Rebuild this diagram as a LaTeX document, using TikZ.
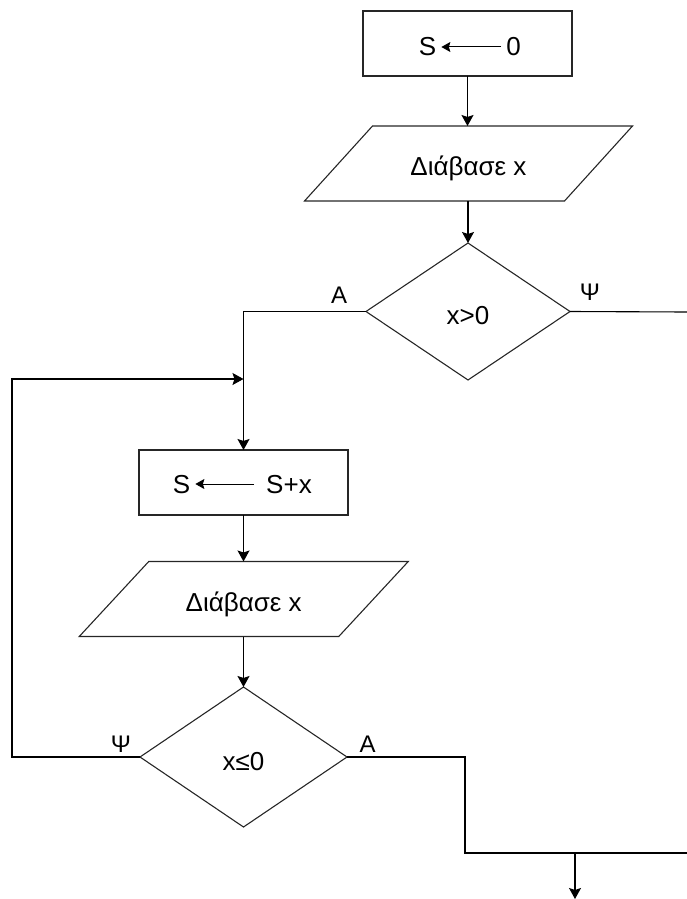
\documentclass[tikz,border=0pt]{standalone}
\usepackage{fontspec}
\setmainfont{Liberation Sans}
\usetikzlibrary{shapes.geometric,arrows.meta}
\begin{document}
\begin{tikzpicture}[x=1pt,y=-1pt,
  every node/.style={font=\fontsize{26}{30}\selectfont},
  shapeline/.style={draw=black!85, line width=1.1pt},
  procbox/.style={shapeline, rectangle, minimum width=209pt, minimum height=65pt, inner sep=0pt, outer sep=0pt},
  iobox/.style={rectangle, minimum width=180pt, minimum height=75pt, inner sep=0pt, outer sep=0pt, text height=24pt, text depth=0pt},
  decbox/.style={shapeline, diamond, inner sep=0pt, outer sep=0pt, text height=26pt, text depth=0pt},
  txt/.style={anchor=base, inner ysep=0pt, inner xsep=5pt},
  lab/.style={anchor=base, inner sep=0pt, font=\fontsize{24}{28}\selectfont},
  edge/.style={line width=1.1pt},
  arr/.style={edge, -{Stealth[length=11pt,width=12pt,inset=2pt]}},
  smallarr/.style={line width=1pt, -{Stealth[length=9pt,width=10pt,inset=1.5pt]}}
]
\useasboundingbox (0,0) rectangle (687,899);

% box 1
\node[procbox] (b1) at (467.5,43.5) {};
\node[txt] (s1) at (427.5,56) {S};
\node[txt] (z1) at (513.5,56) {0};
\draw[smallarr] ([yshift=9pt]z1.base west) -- ([yshift=9pt]s1.base east);

% parallelogram 1
\node[iobox] (p1) at (468.5,163.5) {Διάβασε x};
\draw[shapeline] ([xshift=-96pt]p1.north) -- ([xshift=164pt]p1.north) -- ([xshift=96pt]p1.south) -- ([xshift=-164pt]p1.south) -- cycle;

% decision 1
\node[decbox, minimum width=204pt, minimum height=137pt] (d1) at (468,311.5) {x>0};
\node[lab] (a1) at (339,303) {A};
\node[lab] (y1) at (590,300) {Ψ};

% box 2
\node[procbox] (b2) at (243.5,482.5) {};
\node[txt] (s2) at (181.5,493) {S};
\node[txt, inner xsep=12pt] (sx2) at (289,493) {S+x};
\draw[smallarr] ([yshift=9pt]sx2.base west) -- ([yshift=9pt]s2.base east);

% parallelogram 2
\node[iobox] (p2) at (243.75,599) {Διάβασε x};
\draw[shapeline] ([xshift=-95pt]p2.north) -- ([xshift=164.5pt]p2.north) -- ([xshift=95pt]p2.south) -- ([xshift=-164.5pt]p2.south) -- cycle;

% decision 2
\node[decbox, minimum width=207pt, minimum height=140pt] (d2) at (243.5,757) {x≤0};
\node[lab] (y2) at (121,752) {Ψ};
\node[lab] (a2) at (367.5,752) {A};

% helper coordinates
\coordinate (r1) at (687,312);
\coordinate (lp) at (12,379);
\coordinate (jn) at (243.5,379);
\coordinate (m1) at (465,853);
\coordinate (r2) at (687,853);
\coordinate (m2) at (575,853);
\coordinate (end) at (575,899);

% connectors
\draw[arr] (b1.south) -- (b1.south |- p1.north);
\draw[arr] (d1.north |- p1.south) -- (d1.north);
\draw[arr] (d1.west) -| (b2.north);
\draw[edge] (d1.east) -- (r1);
\draw[arr] (d2.west) -| (lp) -- (jn);
\draw[arr] (b2.south) -- (b2.south |- p2.north);
\draw[arr] (d2.north |- p2.south) -- (d2.north);
\draw[edge] (d2.east) -| (m1) -- (r2);
\draw[arr] (m2) -- (end);
\end{tikzpicture}
\end{document}
